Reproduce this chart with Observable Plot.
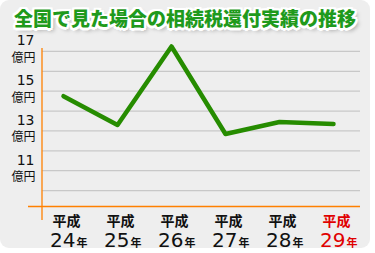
<!DOCTYPE html>
<html><head><meta charset="utf-8">
<script src="https://cdn.jsdelivr.net/npm/d3@7"></script>
<script src="https://cdn.jsdelivr.net/npm/@observablehq/plot@0.6"></script>
<style>
html,body{margin:0;padding:0;background:#fff;}
#wrap{position:relative;width:375px;height:253px;overflow:hidden;font-family:"Noto Sans CJK JP",sans-serif;}
#panel{position:absolute;left:0;top:0;width:370px;height:248px;background:#eeeeee;border-radius:9px;}
#title{position:absolute;left:0;top:6px;width:370px;text-align:center;font-size:19px;font-weight:900;color:#1f9a1c;line-height:24px;white-space:nowrap;
text-shadow:2.5px 0 0 #fff,-2.5px 0 0 #fff,0 2.5px 0 #fff,0 -2.5px 0 #fff,2px 2px 0 #fff,-2px 2px 0 #fff,2px -2px 0 #fff,-2px -2px 0 #fff,3px 3px 4px rgba(0,0,0,0.35);}
#chart{position:absolute;left:0;top:34px;}
</style></head>
<body>
<div id="wrap"><div id="panel"></div><div id="title">全国で見た場合の相続税還付実績の推移</div><div id="chart"></div></div>
<script>
const years = ["24","25","26","27","28","29"];
const values = [14.75, 13.3, 17.25, 12.85, 13.45, 13.35];
const era = "平成";
const yearSuffix = "年";
const yLabelTicks = [17, 15, 13, 11];
const gridTicks = [10, 11, 12, 13, 14, 15, 16, 17];
const unit = "億円";
const highlightYear = "29";

const rows = years.map((y, i) => ({year: y, value: values[i]}));
const labelColor = d => d === highlightYear ? "#e00000" : "#111111";
const numFont = "DejaVu Sans, sans-serif";
const cjkFont = "Noto Sans CJK JP, sans-serif";

const vAxis = (index, scales, values, dims) => {
  return d3.create("svg:line")
    .attr("x1", dims.marginLeft).attr("x2", dims.marginLeft)
    .attr("y1", dims.marginTop + 4).attr("y2", dims.height - dims.marginBottom + 14)
    .attr("stroke", "#ff8000").attr("stroke-width", 1.3).node();
};

const chart = Plot.plot({
  width: 375, height: 219,
  marginLeft: 42, marginRight: 15, marginTop: 10, marginBottom: 47,
  style: {background: "transparent", overflow: "visible"},
  x: {type: "point", domain: years, range: [62, 334], padding: 0, axis: null},
  y: {domain: [9.2, 17.35], axis: null},
  marks: [
    Plot.ruleY(gridTicks, {stroke: "#c8c8c8", strokeWidth: 1.3}),
    Plot.ruleY([9.2], {stroke: "#ff8000", strokeWidth: 1.3, insetLeft: -14}),
    vAxis,
    Plot.text(yLabelTicks, {y: d => d, text: d => String(d), frameAnchor: "left", dx: -8, dy: -6, textAnchor: "end", lineAnchor: "bottom", fontSize: 14, fontFamily: numFont, fill: "#111"}),
    Plot.text(yLabelTicks, {y: d => d, text: () => unit, frameAnchor: "left", dx: -7, dy: 2, textAnchor: "end", lineAnchor: "top", fontSize: 12, fontFamily: cjkFont, fill: "#111"}),
    Plot.line(rows, {x: "year", y: "value", stroke: "#268c00", strokeWidth: 4.5}),
    Plot.text(years, {x: d => d, text: () => era, frameAnchor: "bottom", dx: 3, dy: 19, lineAnchor: "bottom", fontSize: 14, fontWeight: "bold", fontFamily: cjkFont, fill: labelColor}),
    Plot.text(years, {x: d => d, text: d => d, frameAnchor: "bottom", dx: 12, dy: 40, textAnchor: "end", lineAnchor: "bottom", fontSize: 20, fontFamily: numFont, fill: labelColor}),
    Plot.text(years, {x: d => d, text: () => yearSuffix, frameAnchor: "bottom", dx: 13, dy: 40, textAnchor: "start", lineAnchor: "bottom", fontSize: 11, fontWeight: "bold", fontFamily: cjkFont, fill: labelColor})
  ]
});
document.getElementById("chart").appendChild(chart);
</script>
</body></html>
